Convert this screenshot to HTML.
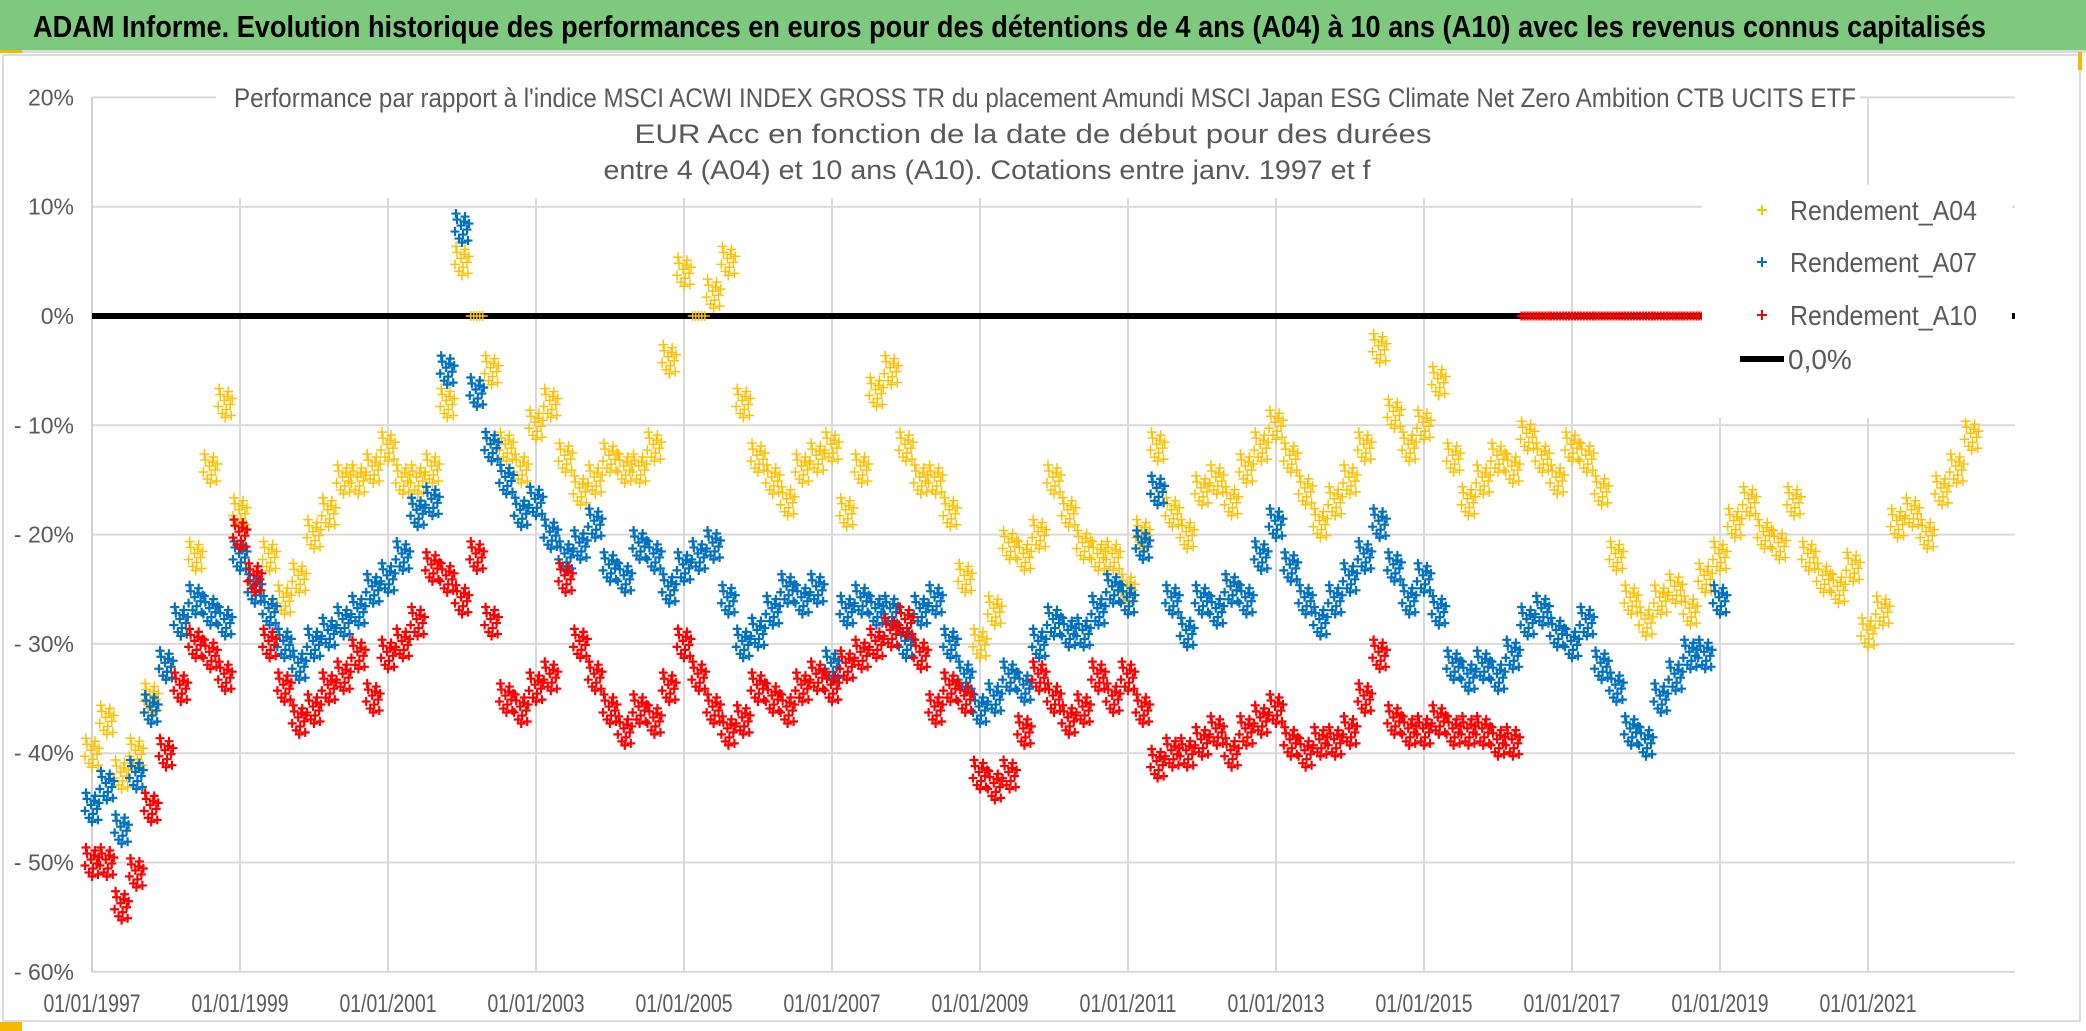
<!DOCTYPE html>
<html><head><meta charset="utf-8"><style>
html,body{margin:0;padding:0;background:#fff;}
svg{display:block;font-family:"Liberation Sans Narrow","Liberation Sans",sans-serif;}
</style></head><body>
<svg id="chart" width="2086" height="1031" viewBox="0 0 2086 1031">
<rect x="0" y="0" width="2086" height="1031" fill="#ffffff"/>
<rect x="0" y="0" width="2086" height="50" fill="#7dc97e"/>
<line x1="0" y1="51.5" x2="2086" y2="51.5" stroke="#d9d9d9" stroke-width="3"/>
<rect x="0" y="50" width="22" height="3" fill="#f5b800"/>
<text x="33" y="37" font-size="31" font-weight="bold" fill="#000" textLength="1953" lengthAdjust="spacingAndGlyphs">ADAM Informe. Evolution historique des performances en euros pour des détentions de 4 ans (A04) à 10 ans (A10) avec les revenus connus capitalisés</text>
<rect x="3" y="55" width="2077" height="966" fill="none" stroke="#d0d0d0" stroke-width="1.5"/>
<rect x="2078" y="52" width="4" height="18" fill="#f5b800"/>
<rect x="0" y="1022" width="22" height="9" fill="#f5b800"/>
<g id="grid"></g>
<g id="marks"></g>
<g id="overlay"></g>
</svg>
<script>
const yTicks = [20,10,0,-10,-20,-30,-40,-50,-60];
const yTickLabels = ["20%","10%","0%","- 10%","- 20%","- 30%","- 40%","- 50%","- 60%"];
const xTickYears = [1997,1999,2001,2003,2005,2007,2009,2011,2013,2015,2017,2019,2021];
const xTickLabels = ["01/01/1997","01/01/1999","01/01/2001","01/01/2003","01/01/2005","01/01/2007","01/01/2009","01/01/2011","01/01/2013","01/01/2015","01/01/2017","01/01/2019","01/01/2021"];
const startYear = 1997;
const stepYears = 0.2;
const a04 = [-40,-37,-42,-40,-35,-32,-28,-22,-14,-8,-18,-24,-22,-26,-24,-20,-18,-15,-15,-14,-12,-15,-15,-14,-8,5,0,-5,-12,-14,-10,-8,-13,-16,-15,-13,-14,-14,-12,-4,4,0,2,5,-8,-13,-15,-17,-14,-13,-12,-18,-14,-7,-5,-12,-15,-15,-18,-24,-30,-27,-21,-22,-20,-15,-18,-21,-22,-22,-25,-20,-12,-18,-20,-16,-15,-17,-14,-12,-10,-13,-16,-19,-17,-15,-12,-3,-9,-12,-10,-6,-13,-17,-15,-13,-14,-11,-13,-15,-12,-13,-16,-22,-26,-28,-26,-25,-27,-24,-22,-19,-17,-20,-21,-17,-22,-24,-25,-23,-29,-27,-19,-18,-20,-16,-14,-11];
const a07 = [-45,-43,-47,-42,-36,-32,-28,-26,-27,-28,-22,-25,-27,-30,-32,-30,-29,-28,-27,-25,-24,-22,-18,-17,-5,8,-7,-12,-15,-18,-17,-20,-22,-21,-19,-23,-24,-21,-22,-25,-23,-22,-21,-26,-30,-29,-27,-25,-26,-25,-32,-27,-26,-27,-27,-30,-27,-26,-30,-33,-36,-35,-33,-34,-30,-28,-29,-29,-27,-25,-26,-21,-16,-26,-29,-26,-27,-25,-26,-22,-19,-23,-26,-28,-26,-24,-22,-19,-23,-26,-24,-27,-32,-33,-32,-33,-31,-28,-27,-29,-30,-28,-32,-34,-38,-39,-35,-33,-31,-31,-26];
const a10 = [-50,-50,-54,-51,-45,-40,-34,-30,-31,-33,-20,-24,-30,-34,-37,-36,-34,-33,-31,-35,-31,-30,-28,-23,-24,-26,-22,-28,-35,-36,-34,-33,-24,-30,-33,-36,-38,-36,-37,-34,-30,-33,-36,-38,-37,-34,-35,-36,-34,-33,-34,-32,-31,-30,-29,-28,-31,-36,-34,-35,-42,-43,-42,-38,-33,-35,-37,-36,-33,-35,-33,-36,-41,-40,-40,-39,-38,-40,-38,-37,-36,-39,-40,-39,-39,-38,-35,-31,-37,-38,-38,-37,-38,-38,-38,-39,-39,0,0,0,0,0,0,0,0,0,0,0,0,0,0,0,0,0,0,0,0,0,0,0,0,0,0,0,0,0,0,0,0];
const zeroLineValue = 0;

const NS = "http://www.w3.org/2000/svg";
const X0 = 92, PX_PER_YEAR = 74, Y0 = 316, PX_PER_PCT = 10.93, XR = 2015;
function xScale(yr){ return X0 + (yr - startYear) * PX_PER_YEAR; }
function yScale(v){ return Y0 - v * PX_PER_PCT; }
function mk(tag, attrs, parent){ const e = document.createElementNS(NS, tag); for (const k in attrs) e.setAttribute(k, attrs[k]); parent.appendChild(e); return e; }

const grid = document.getElementById('grid');
const marks = document.getElementById('marks');
const overlay = document.getElementById('overlay');

yTicks.forEach((t, i) => {
  const l = mk('line', {x1: X0, x2: XR, y1: yScale(t), y2: yScale(t), stroke: '#d9d9d9', 'stroke-width': 2}, grid);
  
  
  const tx = mk('text', {x: 74, y: yScale(t) + 8, 'text-anchor': 'end', 'font-size': 23, fill: '#595959'}, overlay);
  tx.textContent = yTickLabels[i];
  
  
});
xTickYears.forEach((yr, i) => {
  const x = xScale(yr);
  if (i > 0) {
    const l = mk('line', {x1: x, x2: x, y1: yScale(20), y2: yScale(-60), stroke: '#d9d9d9', 'stroke-width': 2}, grid);
    
    
  }
  const tx = mk('text', {x: x, y: 1012, 'text-anchor': 'middle', 'font-size': 25, fill: '#595959', textLength: 97, lengthAdjust: 'spacingAndGlyphs'}, overlay);
  tx.textContent = xTickLabels[i];
  
  
});
const yAxis = mk('line', {x1: X0, x2: X0, y1: yScale(20), y2: yScale(-60), stroke: '#d0d0d0', 'stroke-width': 2}, grid);



const zl = mk('line', {x1: X0, x2: XR, y1: yScale(zeroLineValue), y2: yScale(zeroLineValue), stroke: '#000', 'stroke-width': 6}, marks);



const offsets = [[-7,3],[-5,-9],[-3,10],[-1,-3],[1,6],[3,-12],[5,1],[7,-5],[0,14],[-6,-15],[6,12],[2,-7]];
const zeroOffsets = [[-6,0],[-3,0],[0,0],[3,0],[6,0]];
function drawSeries(arr, color, sw, size, name){
  const g = mk('g', {stroke: color, 'stroke-width': sw, fill: 'none'}, marks);
  
  
  let d = '';
  arr.forEach((v, i) => {
    const cx = xScale(startYear + i * stepYears), cy = yScale(v);
    const offs = v === 0 ? zeroOffsets : offsets;
    offs.forEach(o => {
      const px = cx + o[0], py = cy + o[1];
      d += `M${px-size},${py}H${px+size}M${px},${py-size}V${py+size}`;
    });
  });
  const p = mk('path', {d: d}, g);
  
  
}
drawSeries(a04, '#ffc000', 1.5, 5, 'series-a04');
drawSeries(a07, '#0070c0', 2.2, 4.5, 'series-a07');
drawSeries(a10, '#ff0000', 2.2, 4.5, 'series-a10');

const tb = mk('rect', {x: 216, y: 72, width: 1644, height: 126, fill: '#fff'}, overlay);


const titles = [
  ["Performance par rapport à l'indice MSCI ACWI INDEX GROSS TR  du placement Amundi MSCI Japan ESG Climate Net Zero Ambition CTB UCITS ETF", 1045, 107, 1622],
  ["EUR Acc en fonction de la date de début pour des durées", 1033, 143, 797],
  ["entre 4 (A04) et 10 ans (A10). Cotations entre janv. 1997 et f", 987, 179, 767]
];
titles.forEach(t => {
  const tx = mk('text', {x: t[1], y: t[2], 'text-anchor': 'middle', 'font-size': 27, fill: '#595959', textLength: t[3], lengthAdjust: 'spacingAndGlyphs'}, overlay);
  tx.textContent = t[0];
  
  
});

const lg = mk('g', {}, overlay);


mk('rect', {x: 1702, y: 185, width: 310, height: 233, fill: '#fff'}, lg);
const legendItems = [["Rendement_A04", '#ffc000', 210], ["Rendement_A07", '#0070c0', 262], ["Rendement_A10", '#ff0000', 315]];
legendItems.forEach(it => {
  const m = mk('path', {d: `M1757,${it[2]}H1767M1762,${it[2]-5}V${it[2]+5}`, stroke: it[1], 'stroke-width': 2}, lg);
  
  
  const tx = mk('text', {x: 1790, y: it[2] + 10, 'font-size': 28, fill: '#595959', textLength: 187, lengthAdjust: 'spacingAndGlyphs'}, lg);
  tx.textContent = it[0];
  
  
});
const zm = mk('line', {x1: 1740, x2: 1784, y1: 359, y2: 359, stroke: '#000', 'stroke-width': 6}, lg);


const zt = mk('text', {x: 1788, y: 369, 'font-size': 28, fill: '#595959'}, lg);
zt.textContent = '0,0%';


</script>
</body></html>
